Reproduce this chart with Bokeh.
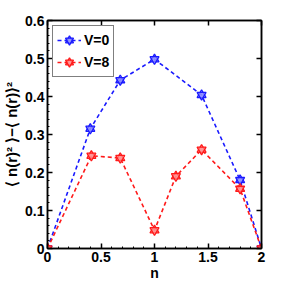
from bokeh.plotting import figure
from bokeh.models import Range1d, FixedTicker, LinearAxis, Legend, LegendItem
from bokeh.embed import file_html
from bokeh.resources import INLINE

# data
n_v0 = [0, 0.4, 0.68, 1.0, 1.44, 1.8, 2.0]
var_v0 = [0, 0.315, 0.443, 0.498, 0.404, 0.18, 0]
n_v8 = [0, 0.41, 0.68, 1.0, 1.2, 1.44, 1.8, 2.0]
var_v8 = [0, 0.244, 0.238, 0.048, 0.19, 0.26, 0.157, 0]
x_ticks = [0, 0.5, 1, 1.5, 2]
x_labels = ["0", "0.5", "1", "1.5", "2"]
y_ticks = [0, 0.1, 0.2, 0.3, 0.4, 0.5, 0.6]
y_labels = ["0", "0.1", "0.2", "0.3", "0.4", "0.5", "0.6"]
x_minor = [i / 10 for i in range(21)]
y_minor = [i / 50 for i in range(31)]

FONT = "Liberation Sans"
FS = "14px"

p = figure(frame_width=214, frame_height=228, output_backend="svg", toolbar_location=None,
           x_range=Range1d(0, 2), y_range=Range1d(0, 0.6),
           min_border_left=44, min_border_right=10, min_border_top=20, min_border_bottom=30)
p.xgrid.visible = False
p.ygrid.visible = False
p.outline_line_color = "black"
p.outline_line_width = 1.5

def style_axis(ax):
    ax.axis_line_width = 1.5
    ax.axis_line_color = "black"
    ax.major_tick_in = 5
    ax.major_tick_out = 0
    ax.minor_tick_in = 2
    ax.minor_tick_out = 0
    ax.major_tick_line_width = 1.5
    ax.major_label_text_font = FONT
    ax.major_label_text_font_style = "bold"
    ax.major_label_text_font_size = FS
    ax.major_label_text_color = "black"
    ax.axis_label_text_font = FONT
    ax.axis_label_text_font_style = "bold"
    ax.axis_label_text_font_size = FS
    ax.axis_label_text_color = "black"

xa = p.xaxis[0]
xa.ticker = FixedTicker(ticks=x_ticks, minor_ticks=x_minor)
xa.major_label_overrides = {t: l for t, l in zip(x_ticks, x_labels)}
xa.axis_label = "n"
xa.axis_label_standoff = 0
xa.major_label_standoff = 3
style_axis(xa)

ya = p.yaxis[0]
ya.ticker = FixedTicker(ticks=y_ticks, minor_ticks=y_minor)
ya.major_label_overrides = {t: l for t, l in zip(y_ticks, y_labels)}
ya.axis_label = "\u27e8 n(r)\u00b2 \u27e9\u2212\u27e8 n(r)\u27e9\u00b2"
ya.axis_label_standoff = 2
ya.major_label_standoff = 3
style_axis(ya)
ya.axis_label_text_font_size = "15px"

top = LinearAxis(ticker=FixedTicker(ticks=x_ticks, minor_ticks=[]))
style_axis(top)
top.major_label_overrides = {t: "" for t in x_ticks}
top.major_label_standoff = 0
p.add_layout(top, "above")
right = LinearAxis(ticker=FixedTicker(ticks=y_ticks, minor_ticks=[]))
style_axis(right)
right.major_label_overrides = {t: "" for t in y_ticks}
right.major_label_standoff = 0
p.add_layout(right, "right")

items = []
for xs, ys, col, fill, lab in [(n_v0, var_v0, "#1a1aff", "#8c8cff", "V=0"),
                               (n_v8, var_v8, "#ff1a1a", "#ff8c8c", "V=8")]:
    l = p.line(xs, ys, line_color=col, line_width=1.6, line_dash="4 3")
    t1 = p.scatter(xs, ys, marker="triangle", size=9, line_color=col, line_width=1.3,
                   fill_color=fill, fill_alpha=0.7)
    t2 = p.scatter(xs, ys, marker="inverted_triangle", size=9, line_color=col, line_width=1.3,
                   fill_color=fill, fill_alpha=0.7)
    items.append(LegendItem(label=lab, renderers=[l, t1, t2]))

leg = Legend(items=items, location="top_left")
leg.label_text_font = FONT
leg.label_text_font_style = "bold"
leg.label_text_font_size = FS
leg.label_text_color = "black"
leg.border_line_color = "black"
leg.border_line_width = 1.2
leg.margin = 5
leg.padding = 4
leg.spacing = 2
leg.label_height = 20
leg.glyph_height = 20
leg.glyph_width = 24
leg.label_standoff = 3
leg.background_fill_alpha = 1
p.add_layout(leg)

open("out.html", "w").write(file_html(p, INLINE))
